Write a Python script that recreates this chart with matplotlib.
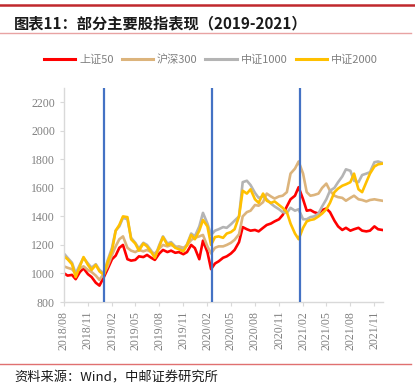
import matplotlib
matplotlib.use('Agg')
import matplotlib.pyplot as plt
import matplotlib.dates as mdates
from matplotlib.lines import Line2D
import pandas as pd

# ---------------- data ----------------
dates = pd.date_range('2018-08-01', periods=81, freq='SMS')

sz50 = [1002, 985, 990, 960, 1010, 1036, 995, 975, 935, 915,
        975, 1030, 1100, 1125, 1180, 1200, 1100, 1090, 1095, 1120,
        1115, 1130, 1110, 1095, 1140, 1165, 1150, 1160, 1145, 1150,
        1135, 1150, 1200, 1178, 1100, 1230, 1150, 1030, 1070, 1085,
        1110, 1120, 1140, 1165, 1220, 1325, 1310, 1300, 1305, 1295,
        1320, 1340, 1350, 1365, 1380, 1410, 1470, 1520, 1545, 1605,
        1520, 1440, 1445, 1430, 1420, 1445, 1455, 1430, 1370, 1330,
        1305, 1320, 1300, 1310, 1320, 1300, 1295, 1300, 1330, 1310,
        1305]

hs300 = [1050, 1040, 1030, 1000, 1035, 1050, 1025, 1010, 985, 955,
         1000, 1050, 1130, 1190, 1240, 1260, 1180, 1160, 1150, 1165,
         1155, 1165, 1150, 1140, 1175, 1200, 1190, 1200, 1185, 1190,
         1180, 1195, 1235, 1250, 1260, 1270, 1190, 1140, 1180, 1190,
         1190, 1200, 1215, 1236, 1275, 1400, 1430, 1440, 1480, 1475,
         1500, 1560, 1540, 1525, 1540, 1545, 1570, 1700, 1735, 1785,
         1700, 1570, 1545, 1550, 1560, 1600, 1630, 1580, 1545, 1535,
         1530, 1510, 1530, 1545, 1520, 1515, 1505, 1515, 1520, 1515,
         1510]

zz1000 = [1140, 1110, 1075, 1000, 1060, 1110, 1070, 1040, 1065, 1025,
          1000, 1090, 1180, 1300, 1330, 1390, 1380, 1250, 1215, 1175,
          1215, 1200, 1160, 1115, 1200, 1260, 1210, 1220, 1190, 1175,
          1165, 1205, 1280, 1260, 1330, 1425, 1350, 1270, 1300, 1310,
          1325, 1320, 1345, 1370, 1400, 1640, 1650, 1620, 1565, 1530,
          1540, 1520, 1490, 1470, 1450, 1430, 1425, 1460, 1440, 1450,
          1380, 1380, 1395, 1400, 1420, 1470, 1520, 1580, 1600, 1640,
          1680, 1730, 1720, 1650, 1640, 1690, 1700, 1710, 1780, 1785,
          1775]

zz2000 = [1120, 1100, 1065, 975, 1050, 1115, 1060, 1025, 1060, 1015,
          990, 1080, 1160, 1300, 1340, 1400, 1395, 1240, 1210, 1160,
          1210, 1190, 1150, 1110, 1190, 1255, 1200, 1210, 1180, 1170,
          1155, 1200, 1270, 1240, 1300, 1375, 1330, 1200, 1255, 1260,
          1250, 1280, 1290, 1310, 1400, 1580, 1560, 1590, 1520, 1495,
          1560, 1510, 1495, 1505, 1480, 1460, 1430, 1350, 1280, 1240,
          1320, 1365, 1375, 1380, 1400, 1420, 1450, 1495, 1570, 1595,
          1615, 1625, 1640, 1700, 1590, 1570, 1640, 1700, 1750, 1765,
          1770]

series_names = ['上证50', '沪深300', '中证1000', '中证2000']
series_colors = ['#ff0000', '#dcb47c', '#b4b4b4', '#ffc000']
event_dates = ['2019-01-03', '2020-02-20', '2021-01-22']
y_ticks = [800, 1000, 1200, 1400, 1600, 1800, 2000, 2200]

title_text = '图表11：部分主要股指表现（2019-2021）'
source_text = '资料来源：Wind，中邮证券研究所'

# ---------------- figure ----------------
cjk = ['Noto Sans CJK SC', 'DejaVu Sans']
serif = ['Liberation Serif', 'DejaVu Serif']
grey = '#808080'

fig = plt.figure(figsize=(4.15, 3.86), dpi=100)
ax = fig.add_axes([0.154, 0.2176, 0.769, 0.5544])

for vals, name, col in zip([sz50, hs300, zz1000, zz2000], series_names, series_colors):
    ax.plot(dates, vals, color=col, lw=1.9, label=name, solid_joinstyle='round')

for d in event_dates:
    ax.axvline(pd.Timestamp(d), color='#4472c4', lw=1.6, zorder=5)

ax.set_ylim(800, 2300)
ax.set_yticks(y_ticks)
ax.set_xlim(pd.Timestamp('2018-08-01'), pd.Timestamp('2021-12-04'))
ax.xaxis.set_major_locator(mdates.MonthLocator(bymonth=[2, 5, 8, 11]))
ax.xaxis.set_major_formatter(mdates.DateFormatter('%Y/%m'))

for s in ['top', 'right']:
    ax.spines[s].set_visible(False)
for s in ['left', 'bottom']:
    ax.spines[s].set_color('#d9d9d9')
    ax.spines[s].set_linewidth(1.0)

ax.tick_params(axis='both', colors='#d9d9d9', length=3, width=0.8,
               labelcolor=grey)
for lbl in ax.get_yticklabels():
    lbl.set_fontfamily(serif)
    lbl.set_fontsize(8.5)
for lbl in ax.get_xticklabels():
    lbl.set_fontfamily(serif)
    lbl.set_fontsize(8.5)
    lbl.set_rotation(90)

# legend
handles = [Line2D([0], [0], color=c, lw=2.2) for c in series_colors]
leg = fig.legend(handles, series_names, loc='center', bbox_to_anchor=(0.508, 0.845),
                 ncol=4, frameon=False, handlelength=2.85, handletextpad=0.35,
                 columnspacing=0.7, prop={'family': cjk, 'size': 8})
for t in leg.get_texts():
    t.set_color(grey)

# header / footer decorations
fig.add_artist(Line2D([0, 1], [1 - 5 / 386, 1 - 5 / 386], transform=fig.transFigure,
                      color='#c0282d', lw=1.8))
fig.add_artist(Line2D([0, 0.99], [1 - 33 / 386, 1 - 33 / 386], transform=fig.transFigure,
                      color='#e8a3a3', lw=1.0))
fig.add_artist(Line2D([0, 0.99], [1 - 364 / 386, 1 - 364 / 386], transform=fig.transFigure,
                      color='#e07070', lw=1.0))
fig.text(14 / 415, 1 - 23 / 386, title_text, fontsize=11, fontweight='bold',
         family=cjk, va='center', ha='left', color='#1a1a1a')
fig.text(14 / 415, 1 - 378 / 386, source_text, fontsize=9.5, family=cjk,
         va='center', ha='left', color='#1a1a1a')

fig.savefig('out.png', dpi=100)
